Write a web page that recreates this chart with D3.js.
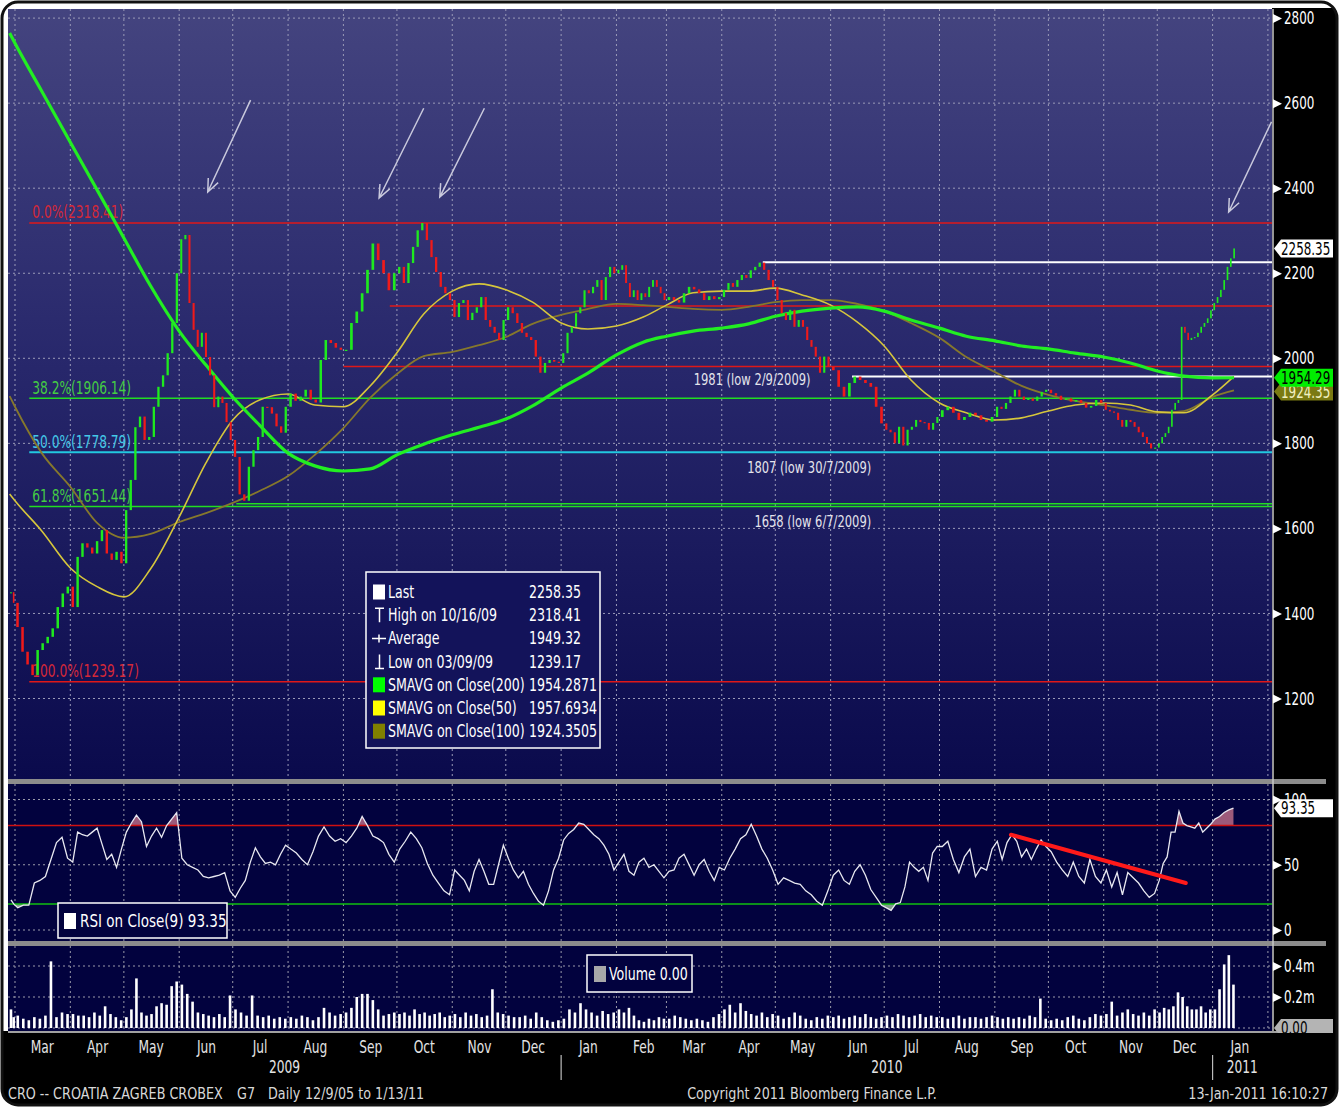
<!DOCTYPE html>
<html>
<head>
<meta charset="utf-8">
<script src="https://cdn.jsdelivr.net/npm/d3@7"></script>
<style>
  body { margin: 0; background: #fff; }
  svg { display: block; }
</style>
</head>
<body>
<div id="chart"></div>
<script>
// ---- data ----
const months = ["2009-02", "2009-03", "2009-04", "2009-05", "2009-06", "2009-07", "2009-08",
  "2009-09", "2009-10", "2009-11", "2009-12", "2010-01", "2010-02", "2010-03", "2010-04",
  "2010-05", "2010-06", "2010-07", "2010-08", "2010-09", "2010-10", "2010-11", "2010-12", "2011-01"];
const firstDay = "2009-02-26";
const lastDay = "2011-01-13";

// closes, roughly every second trading day, one list per month
const closeByMonth = [
  [1450, 1425],
  [1368, 1310, 1280, 1255, 1314, 1330, 1345, 1365, 1415, 1447, 1463],
  [1415, 1533, 1565, 1555, 1541, 1570, 1596, 1541, 1526, 1545, 1518],
  [1643, 1714, 1838, 1863, 1808, 1815, 1886, 1933, 1960, 2012, 2083, 2200],
  [2280, 2290, 2130, 2067, 2027, 2060, 2003, 1960, 1885, 1910, 1895, 1850, 1808],
  [1768, 1680, 1665, 1745, 1784, 1815, 1886, 1885, 1870, 1840, 1825, 1886],
  [1917, 1900, 1910, 1926, 1903, 1896, 1996, 2043, 2036, 2025, 2020],
  [2020, 2083, 2110, 2153, 2208, 2270, 2231, 2200, 2160, 2200],
  [2215, 2177, 2224, 2262, 2301, 2318, 2278, 2238, 2203, 2168, 2153, 2137],
  [2097, 2130, 2137, 2090, 2107, 2120, 2144, 2090, 2074, 2060, 2043, 2090],
  [2120, 2106, 2083, 2060, 2050, 2043, 2004, 1966, 1989, 1996, 1992, 1989],
  [2012, 2060, 2074, 2106, 2120, 2160, 2153, 2168, 2184, 2137, 2191, 2215, 2200],
  [2208, 2219, 2177, 2144, 2160, 2137, 2153, 2144, 2168, 2184, 2168, 2153, 2137],
  [2144, 2137, 2131, 2153, 2168, 2162, 2153, 2137, 2146, 2139, 2144],
  [2161, 2177, 2168, 2184, 2196, 2189, 2207, 2215, 2225, 2208, 2184, 2168],
  [2137, 2106, 2090, 2114, 2074, 2090, 2074, 2043, 2027, 2004, 1966, 2004, 1980],
  [1972, 1933, 1910, 1942, 1957, 1949, 1942, 1933, 1886, 1847],
  [1832, 1826, 1800, 1839, 1795, 1832, 1839, 1855, 1850, 1848, 1832, 1848, 1862],
  [1878, 1886, 1872, 1855, 1862, 1872, 1866, 1855, 1851, 1862],
  [1886, 1881, 1895, 1910, 1926, 1910, 1902, 1906, 1900, 1910, 1921, 1926],
  [1918, 1912, 1902, 1906, 1898, 1902, 1895, 1884, 1888, 1902, 1895],
  [1879, 1875, 1872, 1855, 1839, 1855, 1850, 1839, 1826, 1815, 1800, 1788, 1790],
  [1800, 1815, 1824, 1839, 1879, 1895, 1902, 2074, 2060, 2043, 2048, 2050, 2060, 2074, 2083, 2094, 2113],
  [2130, 2144, 2161, 2184, 2215, 2235, 2258.35]
];

const rsiByMonth = [
  [23, 20],
  [17, 19, 19, 36, 38, 41, 54, 67, 71, 55],
  [52, 75, 73, 72, 75, 78, 66, 54, 58, 48, 62],
  [75, 82, 88, 83, 64, 72, 78, 71, 80, 85, 90],
  [55, 50, 48, 46, 41, 40, 41, 42, 44, 30],
  [25, 32, 38, 52, 63, 56, 51, 52, 50, 58, 65],
  [62, 59, 54, 50, 60, 72, 79, 72, 68, 70],
  [67, 72, 78, 87, 80, 72, 70, 67, 58, 52],
  [62, 68, 75, 70, 63, 51, 42, 36, 30, 27],
  [46, 42, 38, 30, 45, 54, 45, 35, 35, 50, 65],
  [55, 46, 40, 45, 35, 28, 22, 19, 30, 46, 55],
  [69, 74, 77, 82, 81, 77, 73, 70, 65, 58, 46],
  [52, 58, 45, 42, 52, 55, 48, 50, 45, 40],
  [45, 46, 55, 58, 50, 42, 50, 54, 45, 38, 48],
  [46, 55, 62, 70, 73, 81, 72, 62, 55, 46],
  [35, 40, 38, 36, 35, 30, 27, 22, 19, 30],
  [42, 46, 38, 35, 45, 50, 42, 31, 25, 19],
  [17, 15, 20, 21, 33, 52, 48, 45, 48, 38, 59, 64],
  [64, 68, 54, 44, 56, 62, 41, 48, 46, 62],
  [68, 54, 67, 73, 68, 56, 62, 54, 62, 69, 64],
  [60, 52, 46, 41, 52, 41, 36, 54, 41, 36],
  [46, 33, 44, 27, 44, 40, 36, 30, 25, 28],
  [38, 51, 56, 75, 75, 91, 82, 80, 79, 78, 82, 75, 78, 81],
  [85, 87, 90, 92, 93.35]
];

// volume in millions
const volumeByMonth = [
  [0.12, 0.07],
  [0.08, 0.06, 0.05, 0.07, 0.06, 0.08, 0.43, 0.07, 0.1, 0.09],
  [0.09, 0.08, 0.08, 0.07, 0.1, 0.08, 0.14, 0.09, 0.07, 0.05],
  [0.07, 0.12, 0.32, 0.1, 0.08, 0.09, 0.14, 0.16, 0.15, 0.27, 0.3],
  [0.28, 0.22, 0.17, 0.1, 0.09, 0.08, 0.07, 0.09, 0.07, 0.21],
  [0.12, 0.1, 0.08, 0.21, 0.08, 0.07, 0.08, 0.06, 0.07, 0.06],
  [0.07, 0.06, 0.08, 0.07, 0.05, 0.07, 0.13, 0.1, 0.08, 0.09],
  [0.1, 0.13, 0.2, 0.22, 0.22, 0.18, 0.12, 0.08, 0.09, 0.1],
  [0.09, 0.1, 0.08, 0.12, 0.09, 0.1, 0.08, 0.09, 0.1, 0.07, 0.08],
  [0.09, 0.07, 0.1, 0.08, 0.09, 0.07, 0.08, 0.25, 0.1, 0.09],
  [0.08, 0.07, 0.07, 0.08, 0.06, 0.1, 0.07, 0.05, 0.04, 0.05],
  [0.06, 0.12, 0.1, 0.16, 0.12, 0.1, 0.08, 0.11, 0.09, 0.1],
  [0.12, 0.1, 0.13, 0.08, 0.05, 0.04, 0.06, 0.05, 0.07, 0.06],
  [0.06, 0.08, 0.07, 0.06, 0.05, 0.06, 0.05, 0.04, 0.07, 0.09],
  [0.12, 0.15, 0.1, 0.16, 0.11, 0.09, 0.08, 0.1, 0.07, 0.09],
  [0.08, 0.06, 0.07, 0.1, 0.08, 0.06, 0.05, 0.07, 0.06, 0.08],
  [0.07, 0.08, 0.06, 0.07, 0.08, 0.07, 0.09, 0.07, 0.06, 0.07],
  [0.08, 0.07, 0.09, 0.08, 0.07, 0.08, 0.09, 0.07, 0.08, 0.07],
  [0.07, 0.06, 0.07, 0.08, 0.06, 0.07, 0.07, 0.06, 0.07, 0.08],
  [0.07, 0.06, 0.07, 0.06, 0.07, 0.06, 0.08, 0.07, 0.19, 0.06],
  [0.05, 0.06, 0.05, 0.07, 0.08, 0.06, 0.05, 0.07, 0.09, 0.08],
  [0.09, 0.17, 0.08, 0.1, 0.12, 0.09, 0.08, 0.1, 0.08, 0.12],
  [0.1, 0.13, 0.12, 0.14, 0.23, 0.2, 0.14, 0.12, 0.12, 0.14, 0.1, 0.12],
  [0.12, 0.25, 0.41, 0.47, 0.28]
];

// moving averages sampled on the 1st and 16th of each month
const sma200 = [2765, 2741, 2628, 2508, 2396, 2283, 2170, 2064, 1984, 1909,
  1843, 1777, 1747, 1735, 1740, 1773, 1798, 1820, 1838, 1857,
  1888, 1930, 1965, 2008, 2038, 2052, 2064, 2071, 2081, 2099,
  2111, 2118, 2121, 2111, 2090, 2071, 2052, 2041, 2029, 2022,
  2012, 2003, 1989, 1970, 1958, 1954, 1954.29];
const sma50 = [1681, 1665, 1594, 1507, 1463, 1439, 1505, 1627, 1754, 1855,
  1902, 1916, 1890, 1886, 1935, 2013, 2104, 2158, 2175, 2161,
  2132, 2083, 2069, 2076, 2097, 2125, 2154, 2158, 2158, 2165,
  2149, 2125, 2085, 2029, 1949, 1895, 1872, 1855, 1860, 1876,
  1890, 1895, 1890, 1874, 1872, 1914, 1957.69];
const sma100 = [1911, 1886, 1777, 1698, 1613, 1578, 1587, 1615, 1636, 1660,
  1688, 1723, 1773, 1836, 1907, 1963, 2005, 2015, 2031, 2050,
  2081, 2102, 2116, 2128, 2125, 2121, 2116, 2114, 2121, 2132,
  2137, 2137, 2128, 2111, 2083, 2048, 2003, 1968, 1935, 1914,
  1900, 1890, 1879, 1872, 1876, 1909, 1924.35];

const priceTicks = [1200, 1400, 1600, 1800, 2000, 2200, 2400, 2600, 2800];
const rsiTicks = [0, 50, 100];
const volumeTicks = [0, 0.2, 0.4];

// fibonacci retracement from the 9 Mar 2009 low
const fibStart = "2009-03-09";
const fibPcts = ["0.0%", "38.2%", "50.0%", "61.8%", "100.0%"];
const fibValues = [2318.41, 1906.14, 1778.79, 1651.44, 1239.17];

// hand drawn levels [start, value]
const redLevels = [["2009-09-27", 2123], ["2009-09-01", 1981]];
const greenLevels = [["2009-07-03", 1658]];
const whiteLevels = [["2010-04-24", 2226], ["2010-06-13", 1957]];

const noteTexts = ["1981 (low 2/9/2009)", "1807 (low 30/7/2009)", "1658 (low 6/7/2009)"];
const noteDates = ["2010-04-18", "2010-05-20", "2010-05-22"];
const noteValues = [1951, 1744, 1617];

const arrowFrom = [["2009-07-11", 2607], ["2009-10-16", 2588], ["2009-11-19", 2588], ["2011-02-03", 2556]];
const arrowTo = [["2009-06-17", 2391], ["2009-09-21", 2377], ["2009-10-25", 2379], ["2011-01-10", 2344]];

const rsiTrendDates = ["2010-09-10", "2010-12-17"];
const rsiTrendValues = [73, 36];

const legendLabels = ["Last", "High on 10/16/09", "Average", "Low on 03/09/09",
  "SMAVG on Close(200)", "SMAVG on Close(50)", "SMAVG on Close(100)"];
const legendValues = ["2258.35", "2318.41", "1949.32", "1239.17", "1954.2871", "1957.6934", "1924.3505"];

//////////////////////////////////////////////////////////////////////////////

const FONT = "'DejaVu Sans Condensed','DejaVu Sans',sans-serif";
const W = 1340, H = 1107;
const L = 8, R = 1272;
const mainT = 9, mainB = 779, rsiT = 784, rsiB = 941, volT = 946, volB = 1031;

const parse = d3.timeParse("%Y-%m-%d");

const x = d3.scaleTime()
  .domain([new Date(2009, 1, 25, 2), new Date(2011, 1, 3, 7)])
  .range([L, R]);
const y = d3.scaleLinear().domain([1200, 2800]).range([698.5, 18.1]);
const yR = d3.scaleLinear().domain([0, 100]).range([930, 799.5]);
const yV = d3.scaleLinear().domain([0, 0.4]).range([1028, 966]);

// place each month's samples evenly inside that month
function spread(byMonth) {
  const pts = [];
  byMonth.forEach((vals, i) => {
    let start = parse(months[i] + "-01");
    let end = d3.timeMonth.offset(start, 1);
    if (i === 0) start = parse(firstDay);
    if (i === months.length - 1) end = d3.timeDay.offset(parse(lastDay), 1);
    const step = (end - start) / vals.length;
    vals.forEach((v, j) => {
      pts.push({ date: new Date(+start + (j + 0.5) * step), step: step, value: v });
    });
  });
  return pts;
}

const pricePts = spread(closeByMonth);
const rsiPts = spread(rsiByMonth);
const volPts = spread(volumeByMonth);

const monthStarts = d3.timeMonth.range(new Date(2009, 2, 1), new Date(2011, 1, 2));
const midMonths = monthStarts.slice(0, -1).map((d) => d3.timeDay.offset(d, 15));
const maDates = [parse(firstDay)];
months.slice(1, -1).forEach((m) => {
  maDates.push(parse(m + "-01"));
  maDates.push(parse(m + "-16"));
});
maDates.push(parse("2011-01-01"), parse(lastDay));

const svg = d3.select("#chart")
  .append("svg")
  .attr("width", W)
  .attr("height", H)
  .style("font-family", FONT);

const defs = svg.append("defs");
const grad = defs.append("linearGradient")
  .attr("id", "bg")
  .attr("x1", 0).attr("x2", 0).attr("y1", 0).attr("y2", 1);
grad.append("stop").attr("offset", "0%").attr("stop-color", "#44447f");
grad.append("stop").attr("offset", "45%").attr("stop-color", "#28286c");
grad.append("stop").attr("offset", "100%").attr("stop-color", "#0a0a4c");

defs.append("clipPath").attr("id", "frameClip")
  .append("rect").attr("x", 2).attr("y", 2).attr("width", 1335).attr("height", 1103).attr("rx", 16);
defs.append("clipPath").attr("id", "mainClip")
  .append("rect").attr("x", L).attr("y", mainT).attr("width", R - L).attr("height", mainB - mainT);
defs.append("clipPath").attr("id", "rsiClip")
  .append("rect").attr("x", L).attr("y", rsiT).attr("width", R - L).attr("height", rsiB - rsiT);
defs.append("clipPath").attr("id", "hiClip")
  .append("rect").attr("x", L).attr("y", rsiT).attr("width", R - L).attr("height", yR(80) - rsiT);
defs.append("clipPath").attr("id", "loClip")
  .append("rect").attr("x", L).attr("y", yR(20)).attr("width", R - L).attr("height", rsiB - yR(20));
defs.append("clipPath").attr("id", "volTagClip")
  .append("rect").attr("x", R).attr("y", 1000).attr("width", 70).attr("height", volB - 1000 + 2);

// frame and black axis areas
svg.append("rect").attr("width", W).attr("height", H).attr("fill", "#fff");
const frame = svg.append("g").attr("clip-path", "url(#frameClip)");
frame.append("rect").attr("x", R).attr("y", 8).attr("width", 80).attr("height", 1100).attr("fill", "#000");
frame.append("rect").attr("x", 0).attr("y", volB).attr("width", W).attr("height", 90).attr("fill", "#000");
svg.append("rect")
  .attr("x", 2).attr("y", 2).attr("width", 1335).attr("height", 1103).attr("rx", 16)
  .attr("fill", "none").attr("stroke", "#111").attr("stroke-width", 3);

// panels
svg.append("rect").attr("x", L).attr("y", mainT).attr("width", R - L).attr("height", mainB - mainT)
  .attr("fill", "url(#bg)");
svg.append("rect").attr("x", L).attr("y", rsiT).attr("width", R - L).attr("height", rsiB - rsiT)
  .attr("fill", "#02023e");
svg.append("rect").attr("x", L).attr("y", volT).attr("width", R - L).attr("height", volB - volT)
  .attr("fill", "#02023e");
svg.append("rect").attr("x", L).attr("y", mainB).attr("width", 1326 - L).attr("height", 5).attr("fill", "#8c8c8c");
svg.append("rect").attr("x", L).attr("y", rsiB).attr("width", 1326 - L).attr("height", 5).attr("fill", "#8c8c8c");
svg.append("rect").attr("x", L).attr("y", volB).attr("width", 1326 - L).attr("height", 2).attr("fill", "#a0a0a0");

// dotted grids
function grid(g, top, bottom, yScale, values, color) {
  g.append("g").selectAll("line").data(monthStarts).join("line")
    .attr("x1", (d) => x(d)).attr("x2", (d) => x(d))
    .attr("y1", top).attr("y2", bottom)
    .attr("stroke", color).attr("stroke-dasharray", "2,3");
  g.append("g").selectAll("line").data(values).join("line")
    .attr("x1", L).attr("x2", R)
    .attr("y1", (d) => yScale(d)).attr("y2", (d) => yScale(d))
    .attr("stroke", color).attr("stroke-dasharray", "2,3");
}

const mainG = svg.append("g").attr("clip-path", "url(#mainClip)");
grid(mainG, mainT, mainB, y, priceTicks, "#9a9ab8");

// fibonacci lines
const fibColors = ["#e01818", "#22dd22", "#22c8e0", "#22dd22", "#e01818"];
const fibTextColors = ["#d42838", "#44cc44", "#44c8e8", "#44cc44", "#d42838"];
mainG.append("g").selectAll("line").data(fibValues).join("line")
  .attr("x1", x(parse(fibStart))).attr("x2", R)
  .attr("y1", (d) => y(d)).attr("y2", (d) => y(d))
  .attr("stroke", (d, i) => fibColors[i])
  .attr("stroke-width", (d, i) => i === 2 ? 2 : 1.5);
mainG.append("g").selectAll("text").data(fibValues).join("text")
  .attr("x", x(parse(fibStart)) + 3)
  .attr("y", (d) => y(d) - 10)
  .attr("dominant-baseline", "central")
  .attr("font-size", 17)
  .attr("fill", (d, i) => fibTextColors[i])
  .text((d, i) => `${fibPcts[i]}(${d.toFixed(2)})`);

function levels(list, color, width) {
  mainG.append("g").selectAll("line").data(list).join("line")
    .attr("x1", (d) => x(parse(d[0]))).attr("x2", R)
    .attr("y1", (d) => y(d[1])).attr("y2", (d) => y(d[1]))
    .attr("stroke", color).attr("stroke-width", width);
}
levels(redLevels, "#e01818", 1.5);
levels(greenLevels, "#22dd22", 1.5);
levels(whiteLevels, "#ffffff", 2);

// moving averages
const maLine = d3.line()
  .x((d, i) => x(maDates[i]))
  .y((d) => y(d))
  .curve(d3.curveMonotoneX);
mainG.append("path").datum(sma100).attr("d", maLine)
  .attr("fill", "none").attr("stroke", "#86782c").attr("stroke-width", 1.8);
mainG.append("path").datum(sma50).attr("d", maLine)
  .attr("fill", "none").attr("stroke", "#d6c63c").attr("stroke-width", 1.6);
mainG.append("path").datum(sma200).attr("d", maLine)
  .attr("fill", "none").attr("stroke", "#22ee22").attr("stroke-width", 3.2);

// candles: open is the previous close
const candles = pricePts.map((d, i) => ({
  date: d.date,
  step: d.step,
  open: i ? pricePts[i - 1].value : d.value,
  close: d.value,
}));
const cw = (d) => Math.max(1.6, (x(new Date(+d.date + d.step)) - x(d.date)) * 0.5);
mainG.append("g").selectAll("rect").data(candles).join("rect")
  .attr("x", (d) => x(d.date) - cw(d) / 2)
  .attr("width", cw)
  .attr("y", (d) => y(Math.max(d.open, d.close)))
  .attr("height", (d) => Math.max(1.2, Math.abs(y(d.open) - y(d.close))))
  .attr("fill", (d) => d.close >= d.open ? "#1eea1e" : "#f01a1a");

// notes
mainG.append("g").selectAll("text").data(noteTexts).join("text")
  .attr("x", (d, i) => x(parse(noteDates[i])))
  .attr("y", (d, i) => y(noteValues[i]))
  .attr("text-anchor", "middle")
  .attr("dominant-baseline", "central")
  .attr("font-size", 16)
  .attr("fill", "#e4e4ec")
  .text((d) => d);

// arrows
const arrowG = mainG.append("g")
  .attr("stroke", "#c8c8dc").attr("stroke-width", 1.5).attr("fill", "none");
arrowFrom.forEach((a, i) => {
  const x1 = x(parse(a[0])), y1 = y(a[1]);
  const x2 = x(parse(arrowTo[i][0])), y2 = y(arrowTo[i][1]);
  const ang = Math.atan2(y1 - y2, x1 - x2);
  const len = 14;
  arrowG.append("path").attr("d",
    `M${x1},${y1}L${x2},${y2}` +
    `M${x2 + len * Math.cos(ang - 0.4)},${y2 + len * Math.sin(ang - 0.4)}L${x2},${y2}` +
    `L${x2 + len * Math.cos(ang + 0.4)},${y2 + len * Math.sin(ang + 0.4)}`);
});

// legend box
const lg = svg.append("g");
lg.append("rect").attr("x", 366).attr("y", 572).attr("width", 234).attr("height", 176)
  .attr("fill", "#13135a").attr("stroke", "#fff").attr("stroke-width", 1.5);
const rowY = (i) => 592 + i * 23.2;
lg.selectAll("text.lab").data(legendLabels).join("text")
  .attr("class", "lab")
  .attr("x", 388).attr("y", (d, i) => rowY(i))
  .attr("dominant-baseline", "central").attr("font-size", 17.5).attr("fill", "#fff")
  .text((d) => d);
lg.selectAll("text.val").data(legendValues).join("text")
  .attr("class", "val")
  .attr("x", 529).attr("y", (d, i) => rowY(i))
  .attr("dominant-baseline", "central").attr("font-size", 17.5).attr("fill", "#fff")
  .text((d) => d);
const swatch = ["#ffffff", null, null, null, "#00ff00", "#ffff00", "#808000"];
swatch.forEach((c, i) => {
  if (c) {
    lg.append("rect").attr("x", 373).attr("y", rowY(i) - 7.5).attr("width", 12).attr("height", 15).attr("fill", c);
  }
});
lg.append("path")
  .attr("d", `M375,${rowY(1) - 7}H384M379.5,${rowY(1) - 7}V${rowY(1) + 7}` +
    `M372,${rowY(2)}H386M379,${rowY(2) - 4}V${rowY(2) + 4}` +
    `M379.5,${rowY(3) - 7}V${rowY(3) + 7}M375,${rowY(3) + 7}H384`)
  .attr("stroke", "#fff").attr("stroke-width", 1.5).attr("fill", "none");

// ---- RSI panel ----
const rsiG = svg.append("g").attr("clip-path", "url(#rsiClip)");
grid(rsiG, rsiT, rsiB, yR, rsiTicks, "#9a9aaa");
const rsiX = (d) => x(d.date);
rsiG.append("path").datum(rsiPts)
  .attr("d", d3.area().x(rsiX).y0(yR(80)).y1((d) => yR(d.value)))
  .attr("fill", "#9c5a7a").attr("clip-path", "url(#hiClip)");
rsiG.append("path").datum(rsiPts)
  .attr("d", d3.area().x(rsiX).y0(yR(20)).y1((d) => yR(d.value)))
  .attr("fill", "#7f9a8c").attr("clip-path", "url(#loClip)");
rsiG.append("line").attr("x1", L).attr("x2", R).attr("y1", yR(80)).attr("y2", yR(80))
  .attr("stroke", "#d01010").attr("stroke-width", 1.5);
rsiG.append("line").attr("x1", L).attr("x2", R).attr("y1", yR(20)).attr("y2", yR(20))
  .attr("stroke", "#10c010").attr("stroke-width", 1.5);
rsiG.append("path").datum(rsiPts)
  .attr("d", d3.line().x(rsiX).y((d) => yR(d.value)))
  .attr("fill", "none").attr("stroke", "#e8e8f0").attr("stroke-width", 1.3);
rsiG.append("line")
  .attr("x1", x(parse(rsiTrendDates[0]))).attr("x2", x(parse(rsiTrendDates[1])))
  .attr("y1", yR(rsiTrendValues[0])).attr("y2", yR(rsiTrendValues[1]))
  .attr("stroke", "#ff1a1a").attr("stroke-width", 4).attr("stroke-linecap", "round");

const rl = svg.append("g");
rl.append("rect").attr("x", 58).attr("y", 903).attr("width", 169).attr("height", 35)
  .attr("fill", "#02023e").attr("stroke", "#fff").attr("stroke-width", 1.5);
rl.append("rect").attr("x", 64).attr("y", 913).attr("width", 12).attr("height", 16).attr("fill", "#fff");
rl.append("text").attr("class", "wide").attr("x", 80).attr("y", 921).attr("dominant-baseline", "central")
  .attr("font-size", 17.5).attr("fill", "#fff").text("RSI on Close(9)  93.35");

// ---- volume panel ----
const volG = svg.append("g");
grid(volG, volT, volB, yV, volumeTicks, "#9a9aaa");
volG.append("g").selectAll("rect").data(volPts).join("rect")
  .attr("x", (d) => x(d.date) - 1.3)
  .attr("width", 2.6)
  .attr("y", (d) => yV(d.value))
  .attr("height", (d) => yV(0) - yV(d.value))
  .attr("fill", "#ffffff");
const vl = svg.append("g");
vl.append("rect").attr("x", 587).attr("y", 955).attr("width", 105).attr("height", 37)
  .attr("fill", "#02023e").attr("stroke", "#fff").attr("stroke-width", 1.5);
vl.append("rect").attr("x", 594).attr("y", 966).attr("width", 12).attr("height", 16).attr("fill", "#a8a8a8");
vl.append("text").attr("x", 609).attr("y", 974).attr("dominant-baseline", "central")
  .attr("font-size", 17.5).attr("fill", "#fff").text("Volume 0.00");

// ---- right axes ----
svg.append("line").attr("x1", R + 1).attr("x2", R + 1).attr("y1", mainT).attr("y2", volB)
  .attr("stroke", "#c8c8c8").attr("stroke-width", 1.5);

function rightAxis(scale, major, minor, fmt) {
  const g = svg.append("g").attr("transform", `translate(${R + 1},0)`);
  g.call(d3.axisRight(scale).tickValues(minor).tickSize(4).tickFormat(""));
  g.call(d3.axisRight(scale).tickValues(major).tickSize(0).tickPadding(11).tickFormat(fmt));
  g.selectAll(".domain").remove();
  g.selectAll(".tick line").attr("stroke", "#ddd");
  g.selectAll(".tick text")
    .attr("class", "axisText")
    .attr("fill", "#fff").attr("font-family", FONT).attr("font-size", 17)
    .attr("dy", null).attr("dominant-baseline", "central");
  g.selectAll(".tick").filter((d) => major.includes(d))
    .append("path").attr("d", "M0,-4.5L9,0L0,4.5Z").attr("fill", "#fff");
  return g;
}
rightAxis(y, priceTicks, d3.range(1300, 2800, 200), d3.format("d"));
rightAxis(yR, rsiTicks, [25, 75], d3.format("d"));
rightAxis(yV, volumeTicks.filter((v) => v > 0), [0.1, 0.3], (d) => `${d}m`);

// value tags on the axis
function tag(g, yPos, text, fill, color) {
  g.append("path")
    .attr("d", `M${R + 2},${yPos}L${R + 9},${yPos - 9}H1333V${yPos + 9}H${R + 9}Z`)
    .attr("fill", fill);
  g.append("text").attr("class", "axisText").attr("x", R + 9).attr("y", yPos + 0.5)
    .attr("dominant-baseline", "central")
    .attr("font-size", 17).attr("fill", color).text(text);
}
const tags = svg.append("g");
tag(tags, y(2258.35), "2258.35", "#ffffff", "#000");
tag(tags, y(1924.35) + 1, "1924.35", "#7a7a12", "#f0f0c0");
tag(tags, y(1954.29), "1954.29", "#00ee00", "#000");
tag(tags, yR(93.35), "93.35", "#ffffff", "#000");
tag(svg.append("g").attr("clip-path", "url(#volTagClip)"), yV(0), "0.00", "#b4b4b4", "#000");

// ---- bottom time axis ----
const xa = svg.append("g").attr("transform", `translate(0,${volB + 1})`);
xa.call(d3.axisBottom(x).tickValues(monthStarts).tickSize(5).tickFormat(""));
xa.call(d3.axisBottom(x).tickValues(midMonths).tickSize(0).tickPadding(8).tickFormat(d3.timeFormat("%b")));
xa.selectAll(".domain").remove();
xa.selectAll(".tick line").attr("stroke", "#888");
xa.selectAll(".tick text")
  .attr("fill", "#e4e4e4").attr("font-family", FONT).attr("font-size", 17)
  .attr("dy", null).attr("y", 15).attr("dominant-baseline", "central");

const yearSpans = [[x.domain()[0], new Date(2010, 0, 1)], [new Date(2010, 0, 1), new Date(2011, 0, 1)],
  [new Date(2011, 0, 1), x.domain()[1]]];
svg.append("g").selectAll("text").data(yearSpans).join("text")
  .attr("x", (d) => (x(d[0]) + x(d[1])) / 2)
  .attr("y", 1067)
  .attr("text-anchor", "middle").attr("dominant-baseline", "central")
  .attr("font-size", 17).attr("fill", "#e4e4e4")
  .text((d) => d3.timeFormat("%Y")(d3.timeDay.offset(d[0], 2)));
svg.append("g").selectAll("line").data([new Date(2010, 0, 1), new Date(2011, 0, 1)]).join("line")
  .attr("x1", (d) => x(d)).attr("x2", (d) => x(d))
  .attr("y1", 1055).attr("y2", 1080)
  .attr("stroke", "#bbb").attr("stroke-width", 1.2);

// footer
const foot = svg.append("g").attr("font-size", 16.5).attr("fill", "#d8d8d8");
const footTexts = [
  [8, "start", "CRO -- CROATIA ZAGREB CROBEX"],
  [237, "start", "G7"],
  [268, "start", "Daily"],
  [305, "start", "12/9/05 to 1/13/11"],
  [812, "middle", "Copyright 2011 Bloomberg Finance L.P."],
  [1328, "end", "13-Jan-2011 16:10:27"],
];
foot.selectAll("text").data(footTexts).join("text")
  .attr("class", "wide")
  .attr("x", (d) => d[0]).attr("y", 1094)
  .attr("text-anchor", (d) => d[1])
  .attr("dominant-baseline", "central")
  .text((d) => d[2]);

// the Bloomberg face is much narrower than anything installed: squeeze text horizontally
function squeeze(sel, k) {
  sel.each(function () {
    const t = d3.select(this);
    const tx = +t.attr("x") || 0, ty = +t.attr("y") || 0;
    t.attr("x", 0).attr("y", 0).attr("transform", `translate(${tx},${ty}) scale(${k},1)`);
  });
}
squeeze(svg.selectAll("text.axisText"), 0.78);
squeeze(svg.selectAll("text.wide"), 0.86);
squeeze(svg.selectAll("text:not(.axisText):not(.wide)"), 0.8);
</script>
</body>
</html>
